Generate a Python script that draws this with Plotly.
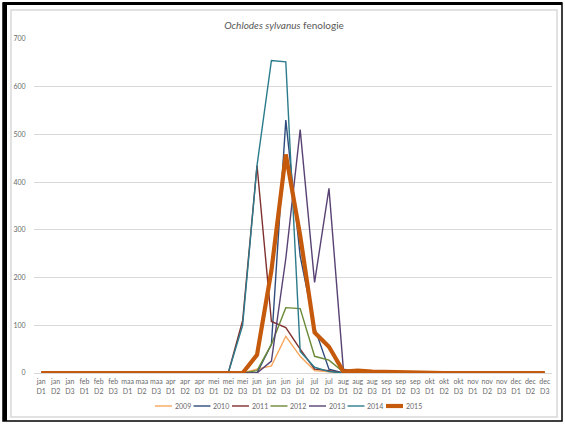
import plotly.graph_objects as go

months = ["jan", "feb", "maa", "apr", "mei", "jun", "jul", "aug", "sep", "okt", "nov", "dec"]
decades = ["D1", "D2", "D3"]
categories = [f"{m}<br>{d}" for m in months for d in decades]

years = ["2009", "2010", "2011", "2012", "2013", "2014", "2015"]

z = [0] * 13
v2009 = z + [0, 0, 8, 15, 77, 35, 5, 2, 0, 0, 0, 0, 0, 0, 0, 0, 0, 0, 0, 0, 0, 0, 0]
v2010 = z + [0, 0, 0, 60, 530, 245, 95, 8, 0, 0, 0, 0, 0, 0, 0, 0, 0, 0, 0, 0, 0, 0, 0]
v2011 = z + [0, 110, 435, 108, 95, 50, 8, 5, 0, 0, 0, 0, 0, 0, 0, 0, 0, 0, 0, 0, 0, 0, 0]
v2012 = z + [0, 0, 5, 60, 137, 135, 35, 27, 2, 0, 0, 0, 0, 0, 0, 0, 0, 0, 0, 0, 0, 0, 0]
v2013 = z + [0, 0, 0, 25, 240, 510, 190, 387, 8, 3, 0, 0, 0, 0, 0, 0, 0, 0, 0, 0, 0, 0, 0]
v2014 = z + [0, 100, 435, 655, 652, 45, 12, 3, 0, 0, 0, 0, 0, 0, 0, 0, 0, 0, 0, 0, 0, 0, 0]
v2015 = z + [0, 0, 38, 215, 458, 288, 85, 55, 3, 5, 3, 2, 1, 0, 0, 0, 0, 0, 0, 0, 0, 0, 0]
series = [v2009, v2010, v2011, v2012, v2013, v2014, v2015]

colors = ["#F9A55A", "#2F4D7C", "#7E2F2E", "#6A8A37", "#584273", "#2C7B8C", "#C55A0C"]
widths = [1.4, 1.4, 1.4, 1.4, 1.4, 1.4, 4.2]

W, H = 565, 424
L, R, T, B = 34, 13, 39, 51
PW, PH = W - L - R, H - T - B
TXT = "#6A6A6A"


def px(x):
    return (x - L) / PW


def py(y):
    return (H - B - y) / PH


fig = go.Figure()
for name, vals, c, w in zip(years, series, colors, widths):
    fig.add_trace(go.Scatter(x=categories, y=vals, name=name, mode="lines",
                             line=dict(color=c, width=w), showlegend=False))

shapes = []
annotations = []
# custom legend
leg_y = 406
start_x = 155
step = 38.5
for i, (name, c, w) in enumerate(zip(years, colors, widths)):
    x0 = start_x + i * step
    shapes.append(dict(type="line", xref="paper", yref="paper",
                       x0=px(x0), x1=px(x0 + 17), y0=py(leg_y), y1=py(leg_y),
                       line=dict(color=c, width=w)))
    annotations.append(dict(text=name, xref="paper", yref="paper", x=px(x0 + 17.5), y=py(leg_y),
                            xanchor="left", yanchor="middle", showarrow=False,
                            font=dict(size=7, color=TXT, family="Lato")))

# chart borders
shapes.append(dict(type="rect", xref="paper", yref="paper",
                   x0=px(11), x1=px(557), y0=py(10), y1=py(417),
                   line=dict(color="#D9D9D9", width=1.5), layer="below"))
shapes.append(dict(type="rect", xref="paper", yref="paper",
                   x0=px(3), x1=px(562), y0=py(3), y1=py(421),
                   line=dict(color="#000000", width=1.5)))
shapes.append(dict(type="line", xref="paper", yref="paper",
                   x0=px(5), x1=px(5), y0=py(2), y1=py(421),
                   line=dict(color="#000000", width=4)))
shapes.append(dict(type="line", xref="paper", yref="paper",
                   x0=px(3), x1=px(562), y0=py(3.5), y1=py(3.5),
                   line=dict(color="#000000", width=3)))

fig.update_layout(
    width=W, height=H,
    margin=dict(l=L, r=R, t=T, b=B, autoexpand=False),
    paper_bgcolor="white", plot_bgcolor="white",
    font=dict(family="Lato", color=TXT),
    title=dict(text="<i>Ochlodes sylvanus</i> fenologie", x=px(284), xref="paper",
               xanchor="center", y=1 - 25 / H, yref="container", yanchor="middle",
               font=dict(size=10, color="#595959", family="Lato")),
    xaxis=dict(type="category", range=[-0.5, 35.5], showgrid=False, showline=True,
               linecolor="#D9D9D9", linewidth=1, ticks="outside", ticklen=2,
               tickcolor="rgba(0,0,0,0)", tickfont=dict(size=7, color=TXT),
               tickangle=0, fixedrange=True),
    yaxis=dict(range=[0, 700], dtick=100, showgrid=True, gridcolor="#D9D9D9", gridwidth=1,
               zeroline=False, showline=False, ticks="outside", ticklen=6,
               tickcolor="rgba(0,0,0,0)", tickfont=dict(size=7, color=TXT)),
    shapes=shapes, annotations=annotations,
)

fig.write_html("out.html", config={"displayModeBar": False},
               post_script="document.body.style.margin='0';")
